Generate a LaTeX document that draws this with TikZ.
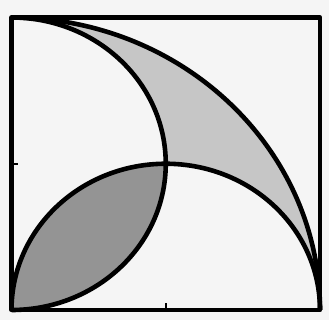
\documentclass[tikz,border=0pt]{standalone}
\begin{document}
\begin{tikzpicture}[x=1pt,y=1pt,
  edge/.style={line width=4.6pt, line join=round},
  tick/.style={line width=1.6pt}]
\definecolor{bg}{RGB}{245,245,245}
\definecolor{lightreg}{RGB}{198,198,198}
\definecolor{darkreg}{RGB}{148,148,148}
\fill[bg] (-11.5,-10) rectangle (317.5,310);
\useasboundingbox (-11.5,-10) rectangle (317.5,310);
\begin{scope}[xscale=3.085, yscale=2.925]
  \coordinate (BL) at (0,0);
  \coordinate (BR) at (100,0);
  \coordinate (TR) at (100,100);
  \coordinate (TL) at (0,100);
  \coordinate (M) at (50,50);
  % light region
  \fill[lightreg] (TL) arc[start angle=90, end angle=0, radius=100pt]
     arc[start angle=0, end angle=90, radius=50pt]
     arc[start angle=0, end angle=90, radius=50pt] -- cycle;
  % dark lens
  \fill[darkreg] (BL) arc[start angle=-90, end angle=0, radius=50pt]
     arc[start angle=90, end angle=180, radius=50pt] -- cycle;
  % arcs
  \draw[edge] (TL) arc[start angle=90, end angle=0, radius=100pt];
  \draw[edge] (TL) arc[start angle=90, end angle=-90, radius=50pt];
  \draw[edge] (BL) arc[start angle=180, end angle=0, radius=50pt];
  % ticks
  \coordinate (LM) at (0,50);
  \coordinate (BM) at (50,0);
  \draw[tick] (LM) -- ++(2.2,0);
  \draw[tick] (BM) -- ++(0,2.5);
  % square
  \draw[edge] (BL) -- (BR) -- (TR) -- (TL) -- cycle;
\end{scope}
\end{tikzpicture}
\end{document}
